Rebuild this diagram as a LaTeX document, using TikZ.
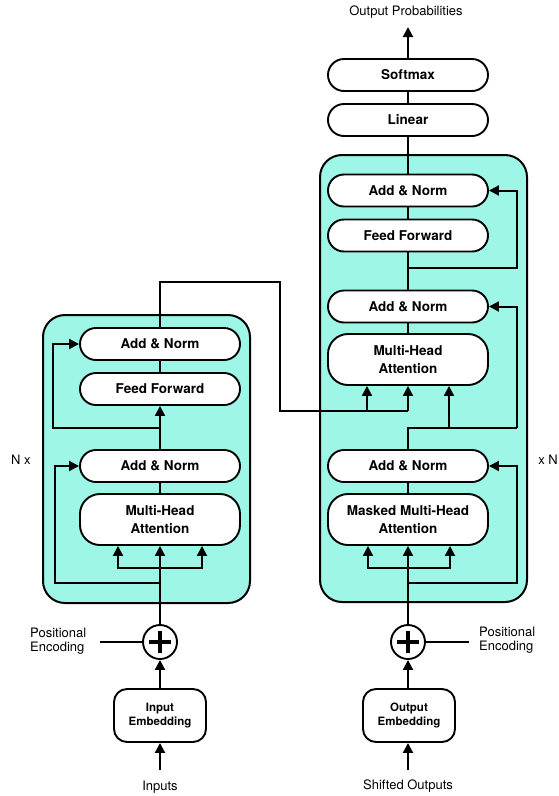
\documentclass[tikz,border=0pt]{standalone}
\usepackage{fontspec}
\setmainfont{TeX Gyre Heros}
\usetikzlibrary{arrows.meta}
\definecolor{tealfill}{RGB}{158,246,230}
\begin{document}
\begin{tikzpicture}[x=1pt,y=-1pt,
  ln/.style={line width=2pt},
  arr/.style={line width=2pt,-{Triangle[length=10pt,width=10pt]}},
  blk/.style={draw,line width=1.9pt,fill=white,rounded corners=16pt,minimum width=160pt,minimum height=32pt,inner sep=0pt,font=\fontsize{13.5}{18}\selectfont\bfseries,align=center},
  blktall/.style={blk,minimum height=51pt,rounded corners=20pt},
  emb/.style={draw,line width=1.9pt,fill=white,rounded corners=13pt,minimum width=92pt,minimum height=53pt,inner sep=0pt,font=\fontsize{11.5}{14.5}\selectfont\bfseries,align=center},
  lab/.style={font=\fontsize{13}{14.5}\selectfont,inner sep=0pt},
  stackbox/.style={draw,line width=2pt,fill=tealfill,rounded corners=22pt,inner sep=0pt},
  plusnode/.style={draw,circle,line width=1.9pt,fill=white,minimum size=34pt,inner sep=0pt}]
\useasboundingbox (0,0) rectangle (559,796);

% stacks
\node[stackbox,minimum width=207pt,minimum height=288pt] (enc) at (146.5,459) {};
\node[stackbox,minimum width=207pt,minimum height=447pt] (dec) at (423.5,378.5) {};

% encoder nodes
\node[blk] (eAN2) at (160,344) {Add \& Norm};
\node[blk] (eFF) at (160,389) {Feed Forward};
\node[blk] (eAN1) at (160,466) {Add \& Norm};
\node[blktall] (eMHA) at (160,519.5) {Multi-Head\\Attention};
\node[plusnode] (eplus) at (160,642) {};
\node[emb] (eEmb) at (160,715.5) {Input\\Embedding};
\node[lab] (inputs) at (160,787) {Inputs};
\node[lab,anchor=west,align=left] (pe1t) at (30,641) {Positional\\Encoding};
\node[lab] (nx1) at (21,460) {N x};

% decoder nodes
\node[blk] (soft) at (408,75) {Softmax};
\node[blk] (lin) at (408,120) {Linear};
\node[blk] (dAN3) at (408,190.5) {Add \& Norm};
\node[blk] (dFF) at (408,235.5) {Feed Forward};
\node[blk] (dAN2) at (408,306.5) {Add \& Norm};
\node[blktall] (dMHA) at (408,359.5) {Multi-Head\\Attention};
\node[blk] (dAN1) at (408,466) {Add \& Norm};
\node[blktall] (dMMHA) at (408,519.5) {Masked Multi-Head\\Attention};
\node[plusnode] (dplus) at (408,642) {};
\node[emb] (dEmb) at (409,715.5) {Output\\Embedding};
\node[lab] (shifted) at (408,786) {Shifted Outputs};
\node[lab,anchor=west,align=left] (pe2t) at (479,640) {Positional\\Encoding};
\node[lab] (nx2) at (548,460) {x N};
\node[lab] (outprob) at (406,12) {Output Probabilities};

% plus signs
\draw[line width=4pt] (eplus.center) ++(-11,0) -- ++(22,0);
\draw[line width=4pt] (eplus.center) ++(0,-11) -- ++(0,22);
\draw[line width=4pt] (dplus.center) ++(-11,0) -- ++(22,0);
\draw[line width=4pt] (dplus.center) ++(0,-11) -- ++(0,22);

% ---------- encoder connections
\coordinate (in1) at (160,770);
\draw[arr] (in1) -- (eEmb.south);
\draw[arr] (eEmb.north) -- (eplus.south);
\coordinate (pe1) at (100,642);
\draw[ln] (eplus.west) -- (pe1);
\coordinate (eSplit) at (160,568);
\coordinate (eL) at (118,568);
\coordinate (eR) at (202,568);
\coordinate (eRes) at (160,583);
\coordinate (eR1) at (55,583);
\draw[ln] (eplus.north) -- (eSplit);
\draw[arr] (eSplit) -- (eMHA.south);
\draw[arr] (eSplit) -- (eL) -- (eL |- eMHA.south);
\draw[arr] (eSplit) -- (eR) -- (eR |- eMHA.south);
\draw[arr] (eRes) -- (eR1) |- (eAN1.west);
\draw[ln] (eMHA.north) -- (eAN1.south);
\draw[arr] (eAN1.north) -- (eFF.south);
\coordinate (eRes2) at (160,428);
\coordinate (eR2) at (53,428);
\draw[arr] (eRes2) -- (eR2) |- (eAN2.west);
\draw[ln] (eFF.north) -- (eAN2.south);

% encoder output to decoder
\coordinate (c1) at (160,282);
\coordinate (c2) at (280,282);
\coordinate (c3) at (280,411);
\coordinate (c4) at (408,411);
\coordinate (c5) at (367,411);
\draw[ln] (eAN2.north) -- (c1) -- (c2) -- (c3) -- (c4);
\draw[arr] (c5) -- (c5 |- dMHA.south);
\draw[arr] (c4) -- (dMHA.south);

% ---------- decoder connections
\coordinate (out1) at (408,770);
\draw[arr] (out1) -- (dplus.south |- dEmb.south);
\draw[arr] (dplus.south |- dEmb.north) -- (dplus.south);
\coordinate (pe2) at (469,642);
\draw[ln] (dplus.east) -- (pe2);
\coordinate (dSplit) at (408,568);
\coordinate (dL) at (368,568);
\coordinate (dR) at (450,568);
\coordinate (dRes) at (408,583);
\coordinate (dR1) at (517,583);
\draw[ln] (dplus.north) -- (dSplit);
\draw[arr] (dSplit) -- (dMMHA.south);
\draw[arr] (dSplit) -- (dL) -- (dL |- dMMHA.south);
\draw[arr] (dSplit) -- (dR) -- (dR |- dMMHA.south);
\draw[arr] (dRes) -- (dR1) |- (dAN1.east);
\draw[ln] (dMMHA.north) -- (dAN1.south);
\coordinate (dq) at (408,428);
\coordinate (dq2) at (449,428);
\coordinate (dR2) at (517,428);
\draw[ln] (dAN1.north) -- (dq) -- (dR2);
\draw[arr] (dR2) |- (dAN2.east);
\draw[arr] (dq2) -- (dq2 |- dMHA.south);
\draw[ln] (dMHA.north) -- (dAN2.south);
\draw[ln] (dAN2.north) -- (dFF.south);
\coordinate (dr3) at (408,268);
\coordinate (dR3) at (517,268);
\draw[arr] (dr3) -- (dR3) |- (dAN3.east);
\draw[ln] (dFF.north) -- (dAN3.south);
\draw[ln] (dAN3.north) -- (lin.south);
\draw[ln] (lin.north) -- (soft.south);
\coordinate (op) at (408,27);
\draw[arr] (soft.north) -- (op);
\end{tikzpicture}
\end{document}
